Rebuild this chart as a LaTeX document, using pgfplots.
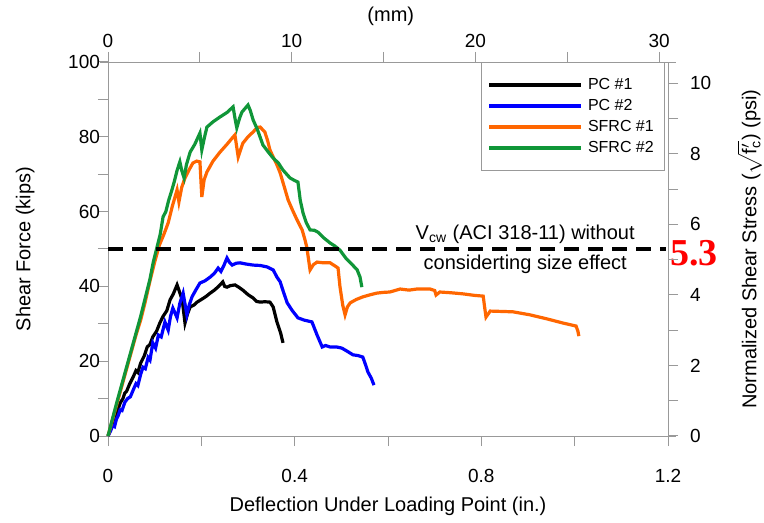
\documentclass[border=0pt]{standalone}
\usepackage{fontspec}
\setmainfont{Liberation Sans}
\newfontfamily\serifb{Liberation Serif}
\usepackage{pgfplots}
\pgfplotsset{compat=1.18}

\definecolor{pcblue}{RGB}{0,0,255}
\definecolor{sfrcorange}{RGB}{255,102,0}
\definecolor{sfrcgreen}{RGB}{16,150,56}

\pgfplotsset{
  common/.style={
    scale only axis, width=280pt, height=187pt,
    axis line style={gray!80}, tick style={gray!80, line width=0.5pt},
    tick align=outside, major tick length=5pt,
    every tick label/.append style={font=\fontsize{9.5}{11}\selectfont, text=black},
    label style={font=\fontsize{10}{12}\selectfont},
    /pgf/number format/assume math mode=true,
  },
}

\begin{document}
\begin{tikzpicture}
\useasboundingbox (-54pt,-43.5pt) rectangle (328pt,218pt);

% main axis: inches and kips
\begin{axis}[common,
    xmin=0, xmax=1.2, ymin=0, ymax=100,
    xtick={0,0.2,0.4,0.6,0.8,1.0,1.2},
    xticklabels={0,,0.4,,0.8,,1.2},
    ytick={0,10,...,100},
    yticklabels={0,,20,,40,,60,,80,,100},
    xtick pos=bottom, ytick pos=left,
    xticklabel style={yshift=-8pt},
    yticklabel style={xshift=4.5pt},
    xlabel={Deflection Under Loading Point (in.)},
    ylabel={Shear Force (kips)},
    ylabel style={at={(axis description cs:-0.148,0.5)}, anchor=center},
    clip=false,
    legend style={at={(axis description cs:0.995,1)}, anchor=north east,
      draw=gray!80, fill=white, font=\fontsize{8}{9}\selectfont,
      inner xsep=3pt, inner ysep=6.6pt, row sep=1pt,
      nodes={inner sep=1.2pt, inner xsep=2.5pt}},
    legend cell align=left,
    legend image code/.code={\draw[#1] (0pt,0pt) -- (46pt,0pt);},
]
\pgfplotsset{xlabel style={at={(axis description cs:0.5,-0.171)}, anchor=center, yshift=-3pt}}

% extended spines
\draw[gray!80] (rel axis cs:-0.014,0) -- (rel axis cs:1.014,0);
\draw[gray!80] (rel axis cs:-0.014,1) -- (rel axis cs:1.014,1);

% PC #1
\addplot[black, line width=1.6pt] coordinates {
(0,0)(0.008,2.5)(0.012,4.5)(0.016,4)(0.020,6.5)(0.026,8.8)(0.032,10)(0.036,11.5)
(0.040,12)(0.046,13.8)(0.054,15.8)(0.060,17.5)(0.064,17)(0.070,19.5)(0.078,21.5)
(0.084,23.8)(0.090,24.5)(0.096,26.5)(0.104,28)(0.111,30.2)(0.118,32)(0.126,33.5)
(0.133,36.4)(0.140,38)(0.148,40.4)(0.152,39)(0.159,36.4)(0.165,30.2)(0.170,32.5)
(0.176,34.5)(0.184,35)(0.191,35.8)(0.200,36.5)(0.210,37.3)(0.219,38.2)(0.228,39)
(0.237,40)(0.246,41.2)(0.250,40)(0.255,39.8)(0.262,40.2)(0.272,40.4)(0.280,39.8)
(0.289,39)(0.300,37.8)(0.311,36.9)(0.318,36)(0.326,35.8)(0.336,35.9)(0.347,35.8)
(0.354,34.5)(0.362,30.5)(0.370,27.5)(0.375,24.9)
};
\addlegendentry{PC \#1}

% PC #2
\addplot[pcblue, line width=1.6pt] coordinates {
(0,0)(0.006,1.5)(0.010,2.8)(0.014,2.5)(0.018,4.5)(0.022,5.5)(0.026,7)(0.030,6.8)
(0.036,9)(0.042,10)(0.048,10.5)(0.054,12.3)(0.060,14)(0.064,13.5)(0.070,16.5)
(0.075,18.4)(0.080,18)(0.086,21)(0.090,20.3)(0.096,24.9)(0.102,23.5)(0.108,27)
(0.114,26.5)(0.122,30.5)(0.129,28.3)(0.134,32)(0.139,34.2)(0.148,31.6)(0.154,35.5)
(0.161,38.2)(0.169,32.4)(0.174,35)(0.180,37.2)(0.188,39)(0.197,40.9)(0.208,41.5)
(0.219,42.5)(0.228,43.5)(0.236,44.9)(0.242,44)(0.248,45.5)(0.255,47.6)(0.260,46.5)
(0.266,45.7)(0.275,46.2)(0.283,46.3)(0.295,46)(0.311,45.7)(0.326,45.6)(0.341,45.2)
(0.354,44.4)(0.362,42.5)(0.369,41.2)(0.376,38.5)(0.384,35.6)(0.395,33.5)(0.407,31.6)
(0.420,31)(0.437,30.5)(0.448,27)(0.459,23.8)(0.466,24.2)(0.476,23.8)(0.490,23.8)
(0.501,23.5)(0.512,22.7)(0.525,21.7)(0.536,21.5)(0.546,21.1)(0.552,19)(0.557,17.1)
(0.564,15.5)(0.570,13.6)
};
\addlegendentry{PC \#2}

% SFRC #1
\addplot[sfrcorange, line width=1.6pt] coordinates {
(0,0)(0.010,4.5)(0.020,9)(0.030,13.5)(0.040,18)(0.050,22.5)(0.060,27)(0.070,31)
(0.080,36)(0.090,41.5)(0.100,46.5)(0.110,51)(0.120,54)(0.129,57)(0.138,61.5)
(0.148,65.8)(0.152,62.6)(0.158,66.5)(0.165,69)(0.173,71)(0.182,73)(0.190,73.5)
(0.197,73.3)(0.201,63.9)(0.206,68.5)(0.212,70.6)(0.225,73.5)(0.240,75.9)(0.255,78)
(0.265,79.5)(0.272,80.5)(0.279,74.6)(0.284,76.5)(0.289,78.3)(0.300,80)(0.311,81.3)
(0.320,82.5)(0.326,82.6)(0.336,81.3)(0.342,79)(0.347,76.5)(0.354,74.6)(0.362,72.5)
(0.369,70.3)(0.378,66.5)(0.386,63.1)(0.395,60.5)(0.405,57.8)(0.416,55.1)(0.422,52.5)
(0.426,50.5)(0.430,47)(0.433,44.4)(0.440,45.8)(0.448,46.5)(0.462,46.3)(0.476,46.3)
(0.486,45.5)(0.493,44.9)(0.497,40)(0.503,35)(0.508,32.4)(0.513,34.5)(0.519,35.6)
(0.532,36.5)(0.546,37.2)(0.560,37.7)(0.576,38.2)(0.590,38.4)(0.604,38.5)(0.626,39.3)
(0.645,39)(0.662,39.3)(0.690,39.3)(0.700,38.9)(0.703,37.7)(0.711,38.5)(0.735,38.3)
(0.761,38)(0.785,37.6)(0.804,37.4)(0.807,34.5)(0.810,31.8)(0.819,33.4)(0.845,33.3)
(0.868,33.2)(0.904,32.4)(0.941,31.3)(0.975,30.2)(1.003,29.4)(1.007,28)(1.009,26.7)
};
\addlegendentry{SFRC \#1}

% SFRC #2
\addplot[sfrcgreen, line width=1.6pt] coordinates {
(0,0)(0.010,4.8)(0.020,9.5)(0.030,14)(0.040,18.5)(0.050,23)(0.060,27.5)(0.070,32)
(0.080,37)(0.090,42)(0.097,46.5)(0.105,50.5)(0.112,54)(0.118,58.6)(0.124,60)
(0.130,63)(0.137,65.8)(0.142,68)(0.148,71)(0.154,73.3)(0.158,71)(0.163,69)
(0.168,72.5)(0.176,75.9)(0.186,78)(0.197,81)(0.201,76.5)(0.207,80)(0.212,82.6)
(0.225,84)(0.240,85.3)(0.255,86.5)(0.268,88)(0.272,85)(0.276,82.4)(0.282,85)
(0.287,86.6)(0.300,88.5)(0.305,87)(0.311,84.5)(0.320,82)(0.332,77.8)(0.343,76)
(0.354,74.3)(0.365,73)(0.375,71.1)(0.390,69)(0.400,68.3)(0.407,67.9)(0.412,63)
(0.418,59.6)(0.425,57)(0.433,55.1)(0.442,55)(0.450,54.5)(0.462,53)(0.476,51.6)
(0.486,50.8)(0.497,49.7)(0.510,47.5)(0.522,46)(0.534,44.4)(0.540,42.5)(0.544,39.8)
};
\addlegendentry{SFRC \#2}

% code limit line
\addplot[black, line width=1.6pt, dash pattern=on 7.5pt off 4.5pt, forget plot]
  coordinates {(0,50)(1.195,50)};

\node[align=center, font=\fontsize{10}{15}\selectfont] at (axis cs:0.894,50)
  {V\textsubscript{cw} (ACI 318-11) without\\considerting size effect};
\node[anchor=west, inner sep=0pt, xshift=1pt, yshift=-2pt, text=red,
  font=\fontsize{19}{21}\serifb\bfseries] at (axis cs:1.2,50) {5.3};
\end{axis}

% top axis: mm
\begin{axis}[common,
    xmin=0, xmax=30.48, ymin=0, ymax=100,
    axis x line*=top, hide y axis,
    xtick={0,5,...,30},
    xticklabels={0,,10,,20,,30},
    xticklabel style={yshift=-1.5pt},
    xlabel={(mm)},
    xlabel style={at={(axis description cs:0.505,1.123)}, anchor=center},
]
\end{axis}

% right axis: normalized shear stress
\begin{axis}[common,
    xmin=0, xmax=1.2, ymin=0, ymax=10.6,
    axis y line*=right, hide x axis,
    ytick={0,1,...,10},
    yticklabels={0,,2,,4,,6,,8,,10},
    yticklabel style={xshift=2.5pt},
    ylabel={Normalized Shear Stress ($\sqrt{\mathrm{f}'_{\mathrm{c}}}$) (psi)},
    ylabel style={at={(axis description cs:1.146,0.5)}, anchor=center},
]
\end{axis}
\end{tikzpicture}
\end{document}
